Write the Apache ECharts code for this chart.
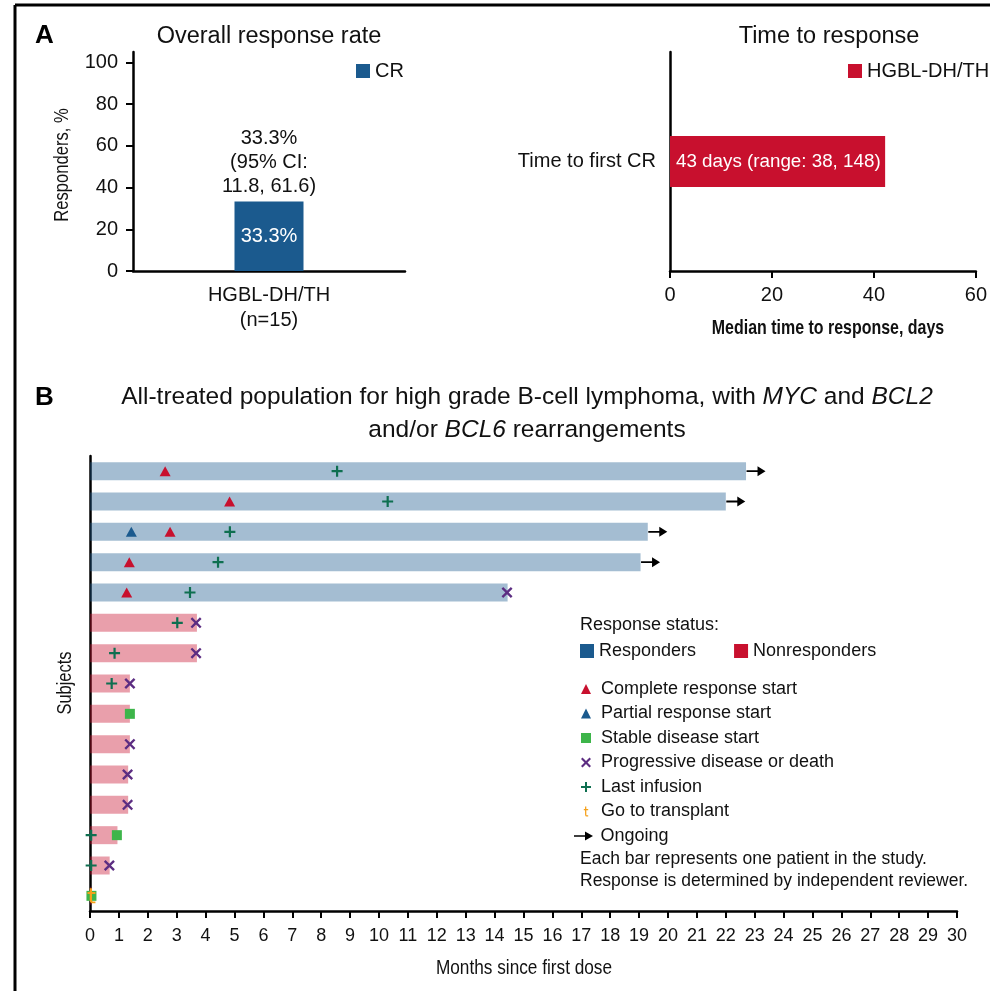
<!DOCTYPE html>
<html>
<head>
<meta charset="utf-8">
<script src="https://cdn.jsdelivr.net/npm/echarts@6/dist/echarts.min.js"></script>
<style>
  html, body { margin: 0; padding: 0; background: #fff; }
  #main { width: 990px; height: 991px; }
</style>
</head>
<body>
<div id="main"></div>
<script>
// ---- panel A: overall response rate ----
const orrCategories = ['HGBL-DH/TH\n(n=15)'];
const orrValues = [33.3];
const orrTicks = [0, 20, 40, 60, 80, 100];

// ---- panel A: time to response ----
const ttrCategories = ['Time to first CR'];
const ttrValues = [42.2];

// ---- panel B: swimmer plot, one row per subject (top to bottom) ----
const subjects = ['1', '2', '3', '4', '5', '6', '7', '8', '9', '10', '11', '12', '13', '14', '15'];
const durations = [22.7, 22.0, 19.3, 19.05, 14.45, 3.7, 3.7, 1.38, 1.38, 1.38, 1.32, 1.32, 0.95, 0.68, 0.05];
const responder = [1, 1, 1, 1, 1, 0, 0, 0, 0, 0, 0, 0, 0, 0, 0];
// events as [row, month]
const crStart = [[0, 2.6], [1, 4.83], [2, 2.77], [3, 1.36], [4, 1.27]];
const prStart = [[2, 1.43]];
const sdStart = [[8, 1.38], [12, 0.93], [14, 0.05]];
const pdDeath = [[4, 14.43], [5, 3.67], [6, 3.67], [7, 1.38], [9, 1.38], [10, 1.3], [11, 1.3], [13, 0.67]];
const lastInfusion = [[0, 8.55], [1, 10.3], [2, 4.84], [3, 4.43], [4, 3.46], [5, 3.02], [6, 0.85], [7, 0.75], [12, 0.04], [13, 0.04]];
const transplant = [[14, 0.05]];
const ongoing = [0, 1, 2, 3];

const FONT = 'Liberation Sans, Arial, sans-serif';
const BLUE = '#1b5a8e';
const RED = '#c8102e';

const X_PATH = 'path://M0,1.5 L1.5,0 L5,3.5 L8.5,0 L10,1.5 L6.5,5 L10,8.5 L8.5,10 L5,6.5 L1.5,10 L0,8.5 L3.5,5 Z';
const PLUS_PATH = 'path://M4,0 H6 V4 H10 V6 H6 V10 H4 V6 H0 V4 H4 Z';
const T_PATH = 'path://M3,0 H5 V4 H8 V6 H5 V13 Q5,14 6,14 H8 V16 H6 Q3,16 3,13 V6 H1 V4 H3 Z';
const ARROW_PATH = 'path://M0,4.2 H11 V0.5 L19,5 L11,9.5 V5.8 H0 Z';

const toPoints = list => list.map(([row, m]) => [m, row]);

function markerSeries(name, data, symbol, size, color, extra) {
  return Object.assign({
    name: name,
    type: 'scatter',
    xAxisIndex: 2,
    yAxisIndex: 2,
    data: toPoints(data),
    symbol: symbol,
    symbolSize: size,
    itemStyle: { color: color, opacity: 1 },
    z: 5,
    silent: true
  }, extra || {});
}

// condensed-looking axis titles (no narrow font installed, so squeeze the text)
function narrowText(text, x, y, sx, rotate, weight) {
  return {
    type: 'text', x: x, y: y, rotation: rotate || 0, scaleX: sx,
    style: {
      text: text, font: (weight || 'normal') + ' 21px ' + FONT, fill: '#111',
      align: 'center', verticalAlign: 'middle'
    }
  };
}

const chart = echarts.init(document.getElementById('main'));

const option = {
  animation: false,
  textStyle: { fontFamily: FONT, color: '#111' },
  grid: [
    { left: 133, right: 585, top: 52, bottom: 720 },
    { left: 670, right: 12, top: 52, bottom: 720 },
    { left: 90, right: 33, top: 456, bottom: 80 }
  ],
  xAxis: [
    {
      gridIndex: 0,
      type: 'category',
      data: orrCategories,
      axisLine: { lineStyle: { color: '#000', width: 2.5 } },
      axisTick: { alignWithLabel: true, length: 8, lineStyle: { color: '#000', width: 2 } },
      axisLabel: { color: '#111', fontSize: 20, lineHeight: 25, margin: 12 }
    },
    {
      gridIndex: 1,
      type: 'value',
      min: 0, max: 60, interval: 20,
      splitLine: { show: false },
      axisLine: { show: true, lineStyle: { color: '#000', width: 2.5 } },
      axisTick: { show: true, length: 7, lineStyle: { color: '#000', width: 2 } },
      axisLabel: { color: '#111', fontSize: 20, margin: 14 }
    },
    {
      gridIndex: 2,
      type: 'value',
      min: 0, max: 30, interval: 1,
      splitLine: { show: false },
      axisLine: { show: true, lineStyle: { color: '#000', width: 2.5 } },
      axisTick: { show: true, length: 7, lineStyle: { color: '#000', width: 2 } },
      axisLabel: { color: '#111', fontSize: 18, margin: 16 }
    }
  ],
  yAxis: [
    {
      gridIndex: 0,
      type: 'value',
      min: 0, max: 105,
      splitLine: { show: false },
      axisLine: { show: true, lineStyle: { color: '#000', width: 2.5 } },
      axisTick: { show: true, length: 7, customValues: orrTicks, lineStyle: { color: '#000', width: 2 } },
      axisLabel: { color: '#111', fontSize: 20, margin: 15, customValues: orrTicks }
    },
    {
      gridIndex: 1,
      type: 'category',
      data: ttrCategories,
      axisLine: { lineStyle: { color: '#000', width: 2.5 } },
      axisTick: { alignWithLabel: true, length: 7, lineStyle: { color: '#000', width: 2 } },
      axisLabel: { color: '#111', fontSize: 20, margin: 14 }
    },
    {
      gridIndex: 2,
      type: 'category',
      inverse: true,
      data: subjects,
      axisLine: { lineStyle: { color: '#000', width: 2.5 } },
      axisTick: { show: false },
      axisLabel: { show: false }
    }
  ],
  legend: [
    {
      left: 356, top: 61, padding: 0,
      data: ['CR'],
      icon: 'rect', itemWidth: 14, itemHeight: 14,
      textStyle: { fontSize: 20, color: '#111' }
    },
    {
      left: 848, top: 61, padding: 0,
      data: ['HGBL-DH/TH'],
      icon: 'rect', itemWidth: 14, itemHeight: 14,
      textStyle: { fontSize: 20, color: '#111' }
    },
    {
      left: 580, top: 642, padding: 0,
      orient: 'horizontal',
      itemGap: 38,
      data: [
        { name: 'Responders', itemStyle: { opacity: 1 } },
        { name: 'Nonresponders', itemStyle: { opacity: 1 } }
      ],
      icon: 'rect', itemWidth: 14, itemHeight: 14,
      textStyle: { fontSize: 18, color: '#111' }
    },
    {
      left: 581, top: 679, padding: 0,
      orient: 'vertical',
      itemGap: 4.5,
      itemWidth: 10, itemHeight: 10,
      data: ['Complete response start', 'Partial response start', 'Stable disease start',
        'Progressive disease or death', 'Last infusion', 'Go to transplant'],
      textStyle: { fontSize: 18, lineHeight: 20, color: '#111', padding: [0, 0, 0, 5] }
    },
    {
      left: 574, top: 826, padding: 0,
      itemWidth: 20, itemHeight: 9,
      data: ['Ongoing'],
      textStyle: { fontSize: 18, lineHeight: 20, color: '#111', padding: [0, 0, 0, 2] }
    }
  ],
  series: [
    {
      name: 'CR',
      type: 'bar',
      xAxisIndex: 0, yAxisIndex: 0,
      data: orrValues,
      barWidth: 69,
      itemStyle: { color: BLUE },
      label: {
        show: true, position: 'inside', color: '#fff', fontSize: 20,
        formatter: p => p.value.toFixed(1) + '%'
      },
      markPoint: {
        symbol: 'rect', symbolSize: 1,
        itemStyle: { color: 'rgba(0,0,0,0)' },
        label: {
          show: true, position: 'top', distance: 3, color: '#111', fontSize: 20, lineHeight: 24,
          formatter: () => '33.3%\n(95% CI:\n11.8, 61.6)'
        },
        data: [{ coord: [0, orrValues[0]] }]
      }
    },
    {
      name: 'HGBL-DH/TH',
      type: 'bar',
      xAxisIndex: 1, yAxisIndex: 1,
      data: ttrValues,
      barWidth: 51,
      itemStyle: { color: RED },
      label: {
        show: true, position: 'insideLeft', distance: 6, color: '#fff', fontSize: 18.8,
        overflow: 'none',
        formatter: () => '43 days (range: 38, 148)'
      }
    },
    {
      name: 'Responders',
      type: 'bar',
      xAxisIndex: 2, yAxisIndex: 2,
      stack: 'swim',
      barWidth: 18,
      data: durations.map((d, i) => responder[i] ? d : null),
      itemStyle: { color: BLUE, opacity: 0.4 },
      z: 2
    },
    {
      name: 'Nonresponders',
      type: 'bar',
      xAxisIndex: 2, yAxisIndex: 2,
      stack: 'swim',
      barWidth: 18,
      data: durations.map((d, i) => responder[i] ? null : d),
      itemStyle: { color: RED, opacity: 0.4 },
      z: 2
    },
    markerSeries('Complete response start', crStart, 'triangle', [11, 10], RED),
    markerSeries('Partial response start', prStart, 'triangle', [11, 10], BLUE),
    markerSeries('Stable disease start', sdStart, 'rect', 10, '#3db54a'),
    markerSeries('Progressive disease or death', pdDeath, X_PATH, 11, '#5c2d82'),
    markerSeries('Last infusion', lastInfusion, PLUS_PATH, 11, '#0e6f50'),
    markerSeries('Go to transplant', transplant, T_PATH, [8, 15], '#f5a01a', { z: 6 }),
    markerSeries('Ongoing', ongoing.map(r => [r, durations[r]]), ARROW_PATH, [19, 10], '#000',
      { symbolOffset: [10, 0] })
  ],
  graphic: [
    { type: 'line', shape: { x1: 15, y1: 5, x2: 990, y2: 5 }, style: { stroke: '#000', lineWidth: 3 } },
    { type: 'line', shape: { x1: 15, y1: 5, x2: 15, y2: 991 }, style: { stroke: '#000', lineWidth: 3 } },
    { type: 'text', x: 35, y: 36, style: { text: 'A', font: 'bold 26px ' + FONT, fill: '#000', verticalAlign: 'middle' } },
    { type: 'text', x: 35, y: 398, style: { text: 'B', font: 'bold 26px ' + FONT, fill: '#000', verticalAlign: 'middle' } },
    { type: 'text', x: 269, y: 37, style: { text: 'Overall response rate', font: '23.5px ' + FONT, fill: '#111', align: 'center', verticalAlign: 'middle' } },
    { type: 'text', x: 829, y: 37, style: { text: 'Time to response', font: '23.5px ' + FONT, fill: '#111', align: 'center', verticalAlign: 'middle' } },
    {
      type: 'text', x: 527, y: 414,
      style: {
        text: 'All-treated population for high grade B-cell lymphoma, with {i|MYC} and {i|BCL2}\nand/or {i|BCL6} rearrangements',
        font: '24.5px ' + FONT, fill: '#111', align: 'center', verticalAlign: 'middle', lineHeight: 33,
        rich: { i: { fontStyle: 'italic', fontSize: 24.5, fontFamily: FONT, fill: '#111', lineHeight: 33 } }
      }
    },
    narrowText('Responders, %', 62, 165, 0.79, Math.PI / 2),
    narrowText('Median time to response, days', 828, 328, 0.76, 0, 'bold'),
    narrowText('Subjects', 65, 683, 0.78, Math.PI / 2),
    narrowText('Months since first dose', 524, 968, 0.82, 0),
    { type: 'text', x: 580, y: 625, style: { text: 'Response status:', font: '18px ' + FONT, fill: '#111', verticalAlign: 'middle' } },
    {
      type: 'text', x: 580, y: 870,
      style: {
        text: 'Each bar represents one patient in the study.\nResponse is determined by independent reviewer.',
        font: '17.5px ' + FONT, fill: '#111', verticalAlign: 'middle', lineHeight: 22
      }
    }
  ]
};

chart.setOption(option);
</script>
</body>
</html>
